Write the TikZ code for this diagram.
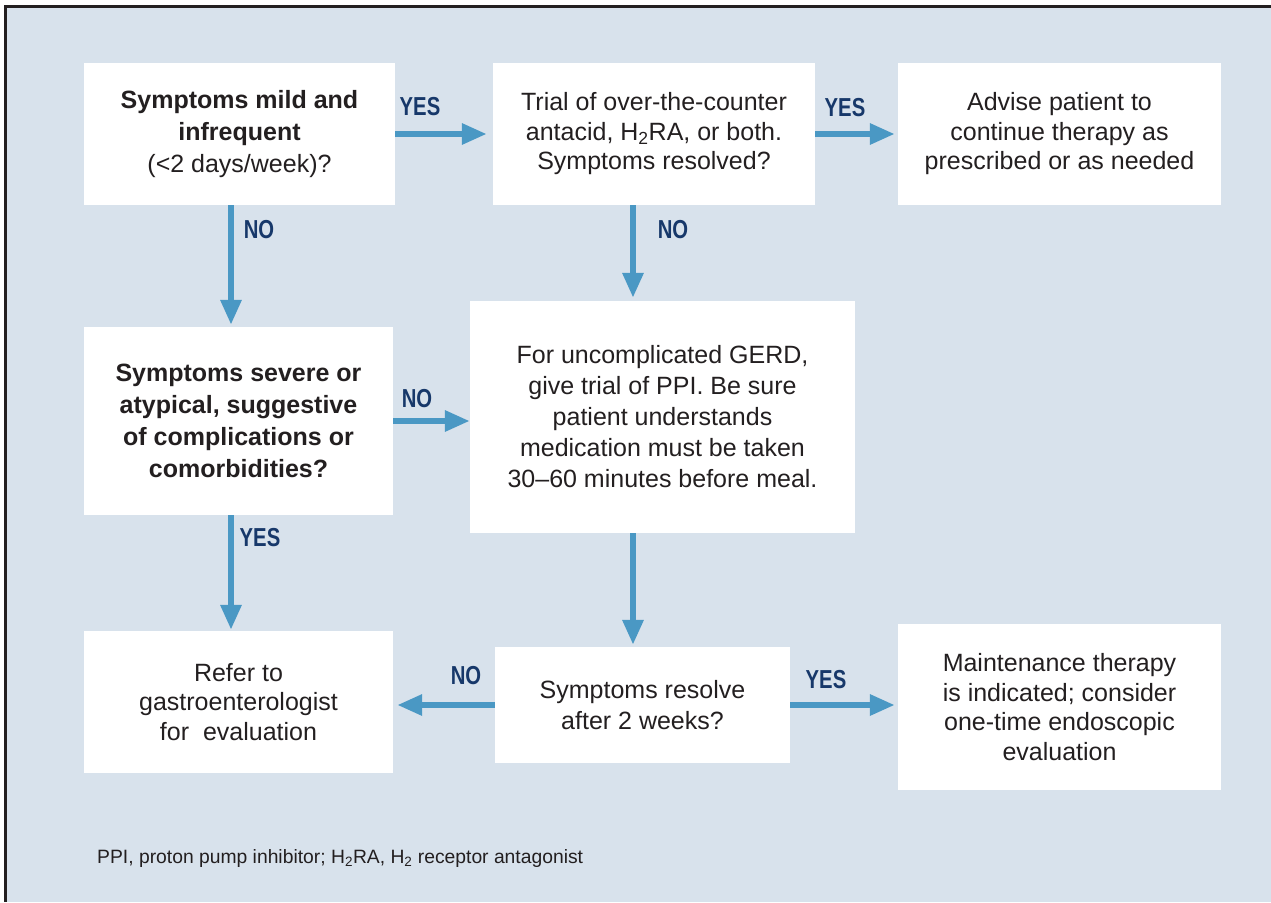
\documentclass[tikz,border=0pt]{standalone}
\usepackage{fontspec}
\setmainfont{Liberation Sans}
\usetikzlibrary{arrows.meta}
\definecolor{bg}{HTML}{D8E2EC}
\definecolor{arr}{HTML}{4A98C4}
\definecolor{lab}{HTML}{17386A}
\definecolor{txt}{HTML}{231F20}
\tikzset{
  box/.style={draw=none, fill=white, align=center, text=txt, inner sep=0pt,
    font=\fontsize{25pt}{29.5pt}\selectfont},
  bbox/.style={box, font=\fontsize{25pt}{32pt}\selectfont\bfseries},
  conn/.style={draw=arr, line width=6pt, -{Triangle[length=25pt,width=20pt]}},
  yn/.style={text=lab, inner sep=0pt, font=\fontsize{26pt}{26pt}\selectfont\bfseries},
}
\newcommand{\yn}[1]{\scalebox{0.78}[1]{#1}}
\begin{document}
\begin{tikzpicture}[x=1pt,y=-1pt]
\useasboundingbox (0,0) rectangle (1271,902);
\fill[white] (0,0) rectangle (1271,902);
\fill[bg] (7,8) rectangle (1271,902);
\fill[txt] (4,4.5) rectangle (1271,8);
\fill[txt] (4,4.5) rectangle (7.3,902);

\coordinate (cl) at (231,0);
\coordinate (cm) at (633,0);

\node[bbox, minimum width=311pt, minimum height=142pt] (b1) at (239.5,134)
  {Symptoms mild and\\infrequent\\{\mdseries(<2 days/week)?}};
\node[box, minimum width=322pt, minimum height=142pt] (b2) at (654,134)
  {Trial of over-the-counter\\antacid, H\textsubscript{2}RA, or both.\\Symptoms resolved?};
\node[box, minimum width=323pt, minimum height=142pt] (b3) at (1059.5,134)
  {Advise patient to\\continue therapy as\\prescribed or as needed};
\node[bbox, minimum width=309pt, minimum height=188pt] (b4) at (238.5,421)
  {Symptoms severe or\\atypical, suggestive\\of complications or\\comorbidities?};
\node[box, minimum width=385pt, minimum height=232pt, font=\fontsize{25pt}{31pt}\selectfont] (b5) at (662.5,417)
  {For uncomplicated GERD,\\give trial of PPI. Be sure\\patient understands\\medication must be taken\\30--60 minutes before meal.};
\node[box, minimum width=309pt, minimum height=142pt] (b6) at (238.5,702)
  {Refer to\\gastroenterologist\\for \ evaluation};
\node[box, minimum width=295pt, minimum height=116pt, font=\fontsize{25pt}{31pt}\selectfont] (b7) at (642.5,705)
  {Symptoms resolve\\after 2 weeks?};
\node[box, minimum width=323pt, minimum height=166pt] (b8) at (1059.5,707)
  {Maintenance therapy\\is indicated; consider\\one-time endoscopic\\evaluation};

\draw[conn, shorten >=6pt] (b1.east) -- (b1.east -| b2.west);
\draw[conn, shorten >=3pt] (b2.east) -- (b2.east -| b3.west);
\draw[conn, shorten >=2pt] (b1.south -| cl) -- (b4.north -| cl);
\draw[conn, shorten >=3pt] (b2.south -| cm) -- (b5.north -| cm);
\draw[conn] (b4.east) -- (b4.east -| b5.west);
\draw[conn, shorten >=1pt] (b4.south -| cl) -- (b6.north -| cl);
\draw[conn, shorten >=2pt] (b5.south -| cm) -- (b7.north -| cm);
\draw[conn, shorten >=4pt] (b7.west) -- (b7.west -| b6.east);
\draw[conn, shorten >=3pt] (b7.east) -- (b7.east -| b8.west);

\node[yn] (l1) at (420,107) {\yn{YES}};
\node[yn] (l2) at (845,108) {\yn{YES}};
\node[yn] (l3) at (259,230) {\yn{NO}};
\node[yn] (l4) at (673,230) {\yn{NO}};
\node[yn] (l5) at (417,399) {\yn{NO}};
\node[yn] (l6) at (260,538) {\yn{YES}};
\node[yn] (l7) at (466,676) {\yn{NO}};
\node[yn] (l8) at (826,680) {\yn{YES}};

\node[anchor=west, inner sep=0pt, text=txt, font=\fontsize{19.3pt}{22pt}\selectfont] (fn) at (97,858)
  {PPI, proton pump inhibitor; H\textsubscript{2}RA, H\textsubscript{2} receptor antagonist};
\end{tikzpicture}
\end{document}
